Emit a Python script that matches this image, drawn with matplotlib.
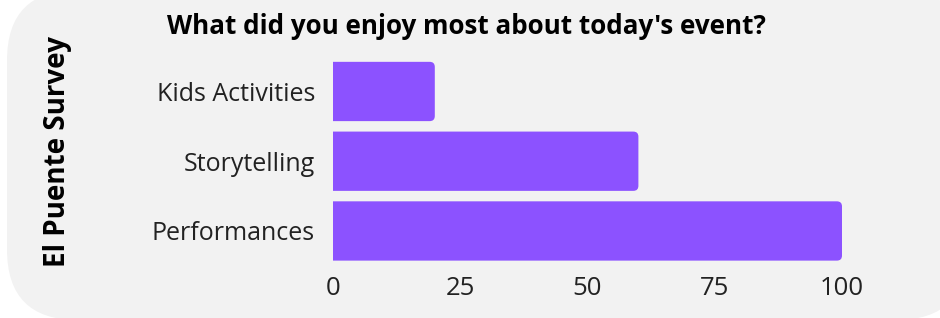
import matplotlib.pyplot as plt
from matplotlib.patches import FancyBboxPatch

# survey answers, bottom to top
categories = ["Performances", "Storytelling", "Kids Activities"]
values = [100, 60, 20]
ticks = [0, 25, 50, 75, 100]

title = "What did you enjoy most about today's event?"
side_label = "El Puente Survey"

bar_color = "#8C52FF"
panel_color = "#F2F2F2"

plt.rcParams['font.family'] = ['Open Sans', 'DejaVu Sans']

fig = plt.figure(figsize=(9.4, 3.18), dpi=100)
fig.patch.set_facecolor("white")

# rounded light panel behind everything
panel = FancyBboxPatch((7 / 940, -2 / 318), 960 / 940, 330 / 318,
                       boxstyle="round,pad=0,rounding_size=0.075",
                       mutation_aspect=940 / 318,
                       transform=fig.transFigure, facecolor=panel_color,
                       edgecolor="none", zorder=-10)
fig.patches.append(panel)

ax = fig.add_axes([333 / 940, 0.164, (842 - 333) / 940, 0.822 - 0.164])
ax.set_facecolor("none")
ax.set_zorder(5)
ax.set_xlim(0, 100)
ax.set_ylim(-0.5, len(categories) - 0.5)

h = 0.85
# pixels per data unit, used to keep the corner rounding round
px_x = (842 - 333) / 100
px_y = 69.75
for i, v in enumerate(values):
    # start left of zero so the axes clip away the left rounded corners
    rb = FancyBboxPatch((-3, i - h / 2), v + 3, h,
                        boxstyle="round,pad=0,rounding_size=1.0",
                        mutation_aspect=px_x / px_y,
                        facecolor=bar_color, edgecolor="none")
    ax.add_patch(rb)

ax.set_yticks(range(len(categories)))
ax.set_yticklabels(categories, fontsize=18, color="#222222")
ax.set_xticks(ticks)
ax.set_xticklabels([str(t) for t in ticks], fontsize=18.5, color="#222222")
ax.tick_params(length=0, axis="y", pad=13)
ax.tick_params(length=0, axis="x", pad=7)
for s in ax.spines.values():
    s.set_visible(False)

fig.text(466 / 940, 1 - 27 / 318, title, ha="center", va="center",
         fontsize=18.75, fontweight="bold", color="black", zorder=6)
fig.text(58 / 940, 1 - 152 / 318, side_label, ha="center", va="center",
         rotation=90, fontsize=20, fontweight="bold", color="black", zorder=6)

fig.savefig("out.png", dpi=100)
